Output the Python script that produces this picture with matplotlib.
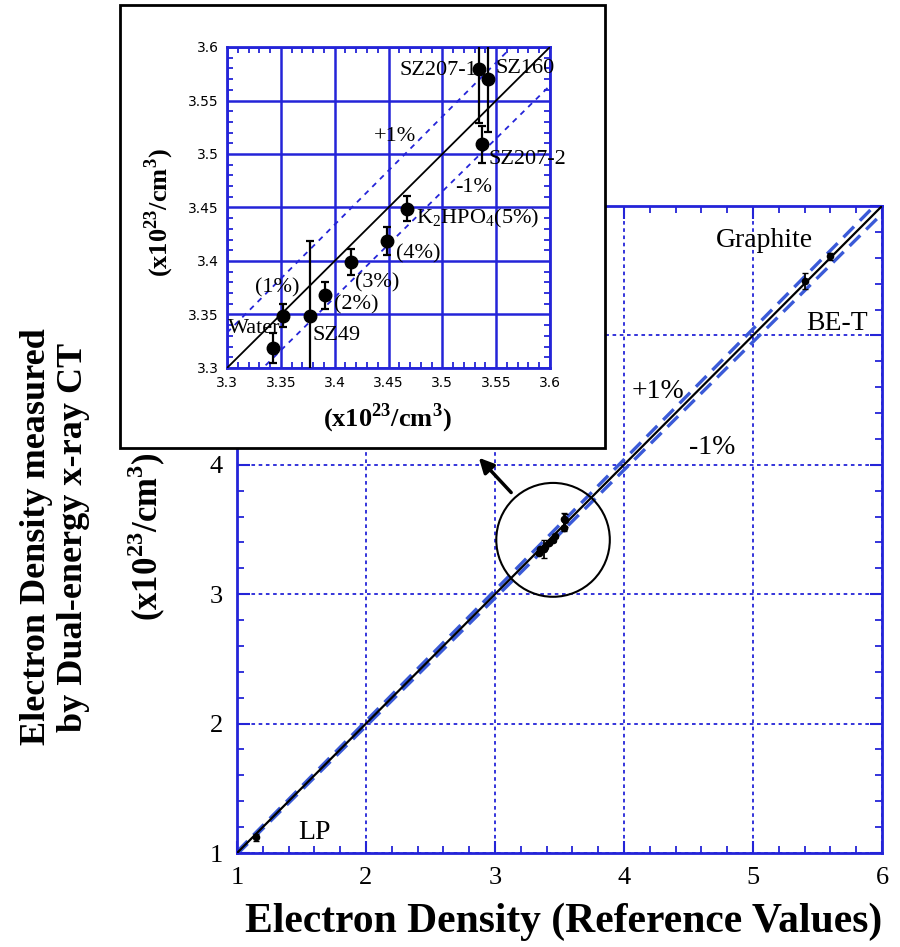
import matplotlib.pyplot as plt
import numpy as np
from matplotlib.patches import Ellipse, Rectangle

# ---- data ----
# inset (zoomed) points: reference value, measured value, error
ins_names = ['Water', '(1%)', 'SZ49', '(2%)', '(3%)', '(4%)', 'K$_2$HPO$_4$(5%)',
             'SZ207-1', 'SZ160', 'SZ207-2']
ins_x = [3.343, 3.352, 3.377, 3.391, 3.415, 3.449, 3.467, 3.534, 3.542, 3.537]
ins_y = [3.319, 3.349, 3.349, 3.368, 3.399, 3.419, 3.449, 3.579, 3.570, 3.509]
ins_err = [0.014, 0.011, 0.070, 0.0125, 0.012, 0.013, 0.012, 0.050, 0.049, 0.017]

# other materials shown only on the main plot
main_names = ['LP', 'BE-T', 'Graphite']
main_x = [1.15, 5.40, 5.60]
main_y = [1.12, 5.42, 5.61]
main_err = [0.03, 0.06, 0.03]

main_ticks = [1, 2, 3, 4, 5, 6]
ins_ticks = [3.3, 3.35, 3.4, 3.45, 3.5, 3.55, 3.6]
ins_ticklabels = ['3.3', '3.35', '3.4', '3.45', '3.5', '3.55', '3.6']

BLUE = '#2424d8'
DBLUE = '#3a5ad8'
serif = 'Liberation Serif'
plt.rcParams['font.family'] = serif
plt.rcParams['mathtext.fontset'] = 'custom'
plt.rcParams['mathtext.rm'] = serif
plt.rcParams['mathtext.bf'] = serif + ':bold'

fig = plt.figure(figsize=(9, 9.47), dpi=100)
W, H = 900, 947

def px(l, t, r, b):
    return [l / W, 1 - b / H, (r - l) / W, (b - t) / H]

# ---- main axes ----
ax = fig.add_axes(px(237, 206, 882, 853))
line = np.array([1, 6])
ax.plot(line, line, color='black', lw=1.6, zorder=3)
ax.plot(line, line * 1.01, color=DBLUE, lw=2.4, ls=(0, (4.5, 2.5)), zorder=2)
ax.plot(line, line * 0.99, color=DBLUE, lw=2.4, ls=(0, (4.5, 2.5)), zorder=2)
ax.errorbar(main_x + ins_x, main_y + ins_y, yerr=main_err + ins_err, fmt='o',
            color='black', ms=4.5, capsize=2.5, elinewidth=1.3, zorder=4)
ax.set_xlim(1, 6)
ax.set_ylim(1, 6)
ax.set_xticks(main_ticks)
ax.set_yticks(main_ticks)
ax.set_xticks(np.arange(1, 6.01, 0.2), minor=True)
ax.set_yticks(np.arange(1, 6.01, 0.2), minor=True)
ax.grid(True, which='major', color=BLUE, ls=(0, (2, 2)), lw=1.3)
ax.tick_params(which='both', direction='in', top=True, right=True, color=BLUE,
               labelsize=19, pad=10)
ax.tick_params(which='major', length=9, width=1.5)
ax.tick_params(which='minor', length=5, width=1.3)
for s in ax.spines.values():
    s.set_color(BLUE)
    s.set_linewidth(2)
# labels 5 and 6 sit behind the inset box
for lab in ax.get_yticklabels()[4:]:
    lab.set_visible(False)

ax.add_patch(Ellipse((3.45, 3.42), 0.88, 0.88, fill=False, color='black', lw=1.5, zorder=5))
ax.annotate('', xy=(2.86, 4.07), xytext=(3.14, 3.77),
            arrowprops=dict(arrowstyle='-|>', color='black', lw=2.5, mutation_scale=22), zorder=5)

ax.text(5.09, 5.73, 'Graphite', fontsize=20, ha='center', va='center')
ax.text(5.65, 5.09, 'BE-T', fontsize=20, ha='center', va='center')
ax.text(4.26, 4.57, '+1%', fontsize=20, ha='center', va='center')
ax.text(4.68, 4.13, '-1%', fontsize=20, ha='center', va='center')
ax.text(1.60, 1.16, 'LP', fontsize=20, ha='center', va='center')

fig.text(564 / W, 1 - 922 / H, 'Electron Density (Reference Values)', fontsize=30,
         fontweight='bold', ha='center', va='center')
fig.text(55 / W, 1 - 537 / H, 'Electron Density measured\nby Dual-energy x-ray CT',
         fontsize=26, fontweight='bold', rotation=90, ha='center', va='center',
         multialignment='center', linespacing=1.15)
fig.text(147 / W, 1 - 537 / H, r'(x10$^{\mathbf{23}}$/cm$^{\mathbf{3}}$)', fontsize=25,
         fontweight='bold', rotation=90, ha='center', va='center')

# ---- inset box ----
fig.patches.append(Rectangle((120 / W, 1 - 448 / H), 485 / W, 443 / H, transform=fig.transFigure,
                             facecolor='white', edgecolor='black', lw=2, zorder=10))

ins = fig.add_axes(px(227, 47, 550, 368), zorder=11)
line2 = np.array([3.3, 3.6])
ins.plot(line2, line2, color='black', lw=1.3, zorder=3)
ins.plot(line2, line2 * 1.01, color=BLUE, lw=1.3, ls=(0, (3, 3)), zorder=2)
ins.plot(line2, line2 * 0.99, color=BLUE, lw=1.3, ls=(0, (3, 3)), zorder=2)
ins.errorbar(ins_x, ins_y, yerr=ins_err, fmt='o', color='black', ms=9, capsize=3,
             elinewidth=1.6, capthick=1.6, zorder=4)
ins.set_xlim(3.3, 3.6)
ins.set_ylim(3.3, 3.6)
ins.set_xticks(ins_ticks, ins_ticklabels, fontfamily='DejaVu Sans')
ins.set_yticks(ins_ticks, ins_ticklabels, fontfamily='DejaVu Sans')
ins.set_xticks(np.arange(3.3, 3.6001, 0.01), minor=True)
ins.set_yticks(np.arange(3.3, 3.6001, 0.01), minor=True)
ins.grid(True, which='major', color=BLUE, lw=1.8)
ins.tick_params(which='both', direction='in', top=True, right=True, color=BLUE, labelsize=10)
ins.tick_params(which='major', length=0, pad=6)
ins.tick_params(which='minor', length=4, width=1.3)
for s in ins.spines.values():
    s.set_color(BLUE)
    s.set_linewidth(2)

lab_x = [3.301, 3.326, 3.379, 3.399, 3.419, 3.457, 3.476, 3.532, 3.549, 3.543]
lab_y = [3.337, 3.375, 3.330, 3.359, 3.380, 3.407, 3.440, 3.578, 3.580, 3.495]
lab_ha = ['left'] * 7 + ['right', 'left', 'left']
for n, tx, ty, ha in zip(ins_names, lab_x, lab_y, lab_ha):
    ins.text(tx, ty, n, fontsize=16, ha=ha, va='center', zorder=5)
ins.text(3.456, 3.516, '+1%', fontsize=16, ha='center', va='center')
ins.text(3.529, 3.469, '-1%', fontsize=16, ha='center', va='center')

fig.text(387 / W, 1 - 418 / H, r'(x10$^{\mathbf{23}}$/cm$^{\mathbf{3}}$)', fontsize=19,
         fontweight='bold', ha='center', va='center', zorder=12)
fig.text(159 / W, 1 - 213 / H, r'(x10$^{\mathbf{23}}$/cm$^{\mathbf{3}}$)', fontsize=19,
         fontweight='bold', rotation=90, ha='center', va='center', zorder=12)

fig.savefig('out.png', dpi=100)
